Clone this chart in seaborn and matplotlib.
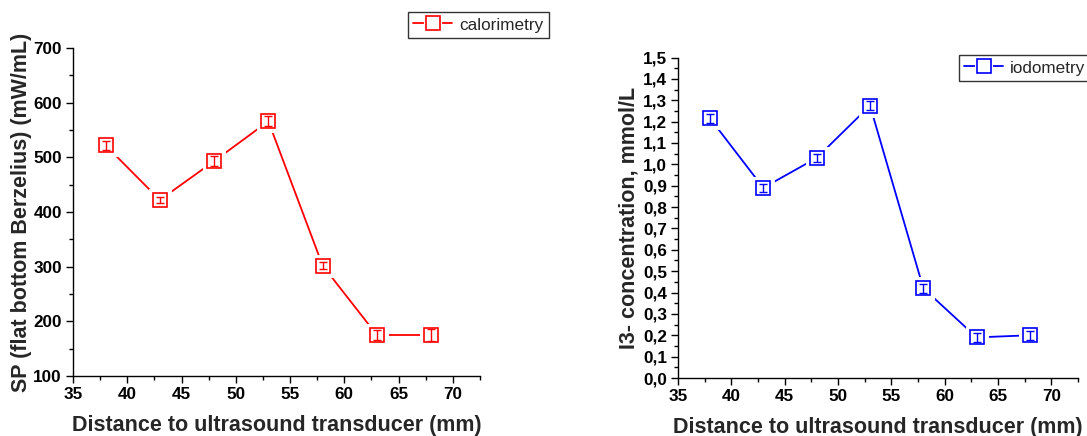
import numpy as np
import pandas as pd
import matplotlib
matplotlib.use("Agg")
import matplotlib.pyplot as plt
import seaborn as sns
from matplotlib.ticker import MultipleLocator, FuncFormatter
from matplotlib.lines import Line2D

distance = [38, 43, 48, 53, 58, 63, 68]
calorimetry = [522, 422, 493, 566, 302, 175, 175]
calorimetry_err = [8, 5, 9, 9, 7, 9, 11]
iodometry = [1.215, 0.89, 1.03, 1.275, 0.42, 0.19, 0.20]
iodometry_err = [0.02, 0.02, 0.02, 0.02, 0.02, 0.02, 0.02]

sns.set_theme(style="ticks")
plt.rcParams['font.family'] = ['Liberation Sans', 'DejaVu Sans']

W, H = 1087, 436
fig = plt.figure(figsize=(10.87, 4.36), dpi=100)
ax1 = fig.add_axes([73 / W, 1 - 376 / H, (480 - 73) / W, (376 - 48) / H])
ax2 = fig.add_axes([678 / W, 1 - 378 / H, (1078 - 678) / W, (378 - 57.5) / H])

def draw(ax, x, y, err, color, label):
    df = pd.DataFrame({"x": x, "y": y})
    sns.lineplot(data=df, x="x", y="y", ax=ax, color=color, linewidth=1.3,
                 zorder=2, legend=False)
    sns.lineplot(data=df, x="x", y="y", ax=ax, linewidth=0, marker="s",
                 markersize=11, markerfacecolor="white", markeredgecolor="white",
                 markeredgewidth=5, zorder=3, legend=False)
    ax.errorbar(x, y, yerr=err, fmt="none", ecolor=color, elinewidth=1.0,
                capsize=3, capthick=1.0, zorder=4)
    sns.lineplot(data=df, x="x", y="y", ax=ax, linewidth=0, marker="s",
                 markersize=10, markerfacecolor="none", markeredgecolor=color,
                 markeredgewidth=1.2, zorder=5, legend=False)
    handle = (Line2D([], [], color=color, linewidth=1.3),
              Line2D([], [], linewidth=0, marker="s", markersize=10,
                     markerfacecolor="white", markeredgecolor="white", markeredgewidth=3),
              Line2D([], [], linewidth=0, marker="s", markersize=10,
                     markerfacecolor="none", markeredgecolor=color, markeredgewidth=1.2))
    return handle

h1 = draw(ax1, distance, calorimetry, calorimetry_err, "#ff0000", "calorimetry")
h2 = draw(ax2, distance, iodometry, iodometry_err, "#0000ff", "iodometry")

for ax in (ax1, ax2):
    ax.set_xlim(35, 72.5)
    ax.xaxis.set_major_locator(MultipleLocator(5))
    ax.xaxis.set_minor_locator(MultipleLocator(2.5))
    ax.spines['top'].set_visible(False)
    ax.spines['right'].set_visible(False)
    for s in ('left', 'bottom'):
        ax.spines[s].set_linewidth(1.0)
        ax.spines[s].set_color('black')
    ax.tick_params(which='major', direction='out', length=5, width=1.0, colors='black',
                   labelsize=12.3, pad=3)
    ax.tick_params(which='minor', direction='out', length=3, width=1.0, colors='black')
    ax.set_xlabel("Distance to ultrasound transducer (mm)", fontsize=15.5,
                  fontweight='bold', labelpad=9)

ax1.set_ylim(100, 700)
ax1.yaxis.set_major_locator(MultipleLocator(100))
ax1.yaxis.set_minor_locator(MultipleLocator(50))
ax1.set_ylabel("SP (flat bottom Berzelius) (mW/mL)", fontsize=15.5, fontweight='bold',
               labelpad=1)

ax2.set_ylim(0, 1.5)
ax2.yaxis.set_major_locator(MultipleLocator(0.1))
ax2.yaxis.set_minor_locator(MultipleLocator(0.05))
ax2.yaxis.set_major_formatter(FuncFormatter(lambda v, p: f"{v:.1f}".replace('.', ',')))
ax2.set_ylabel("I3- concentration, mmol/L", fontsize=15.5, fontweight='bold', labelpad=2)

for ax in (ax1, ax2):
    for lab in ax.get_xticklabels() + ax.get_yticklabels():
        lab.set_fontweight('bold')

leg1 = fig.legend([h1], ["calorimetry"], loc="upper left",
                  bbox_to_anchor=(408 / W, 1 - 12 / H), fontsize=12.3,
                  frameon=True, fancybox=False, edgecolor='black', handlelength=2.3,
                  borderpad=0.3, handletextpad=0.4, borderaxespad=0, handleheight=0.8)
leg1.get_frame().set_linewidth(1.0)
leg2 = fig.legend([h2], ["iodometry"], loc="upper left",
                  bbox_to_anchor=(959 / W, 1 - 55 / H), fontsize=12.3,
                  frameon=True, fancybox=False, edgecolor='black', handlelength=2.3,
                  borderpad=0.3, handletextpad=0.4, borderaxespad=0, handleheight=0.8)
leg2.get_frame().set_linewidth(1.0)

fig.savefig("out.png", dpi=100)
